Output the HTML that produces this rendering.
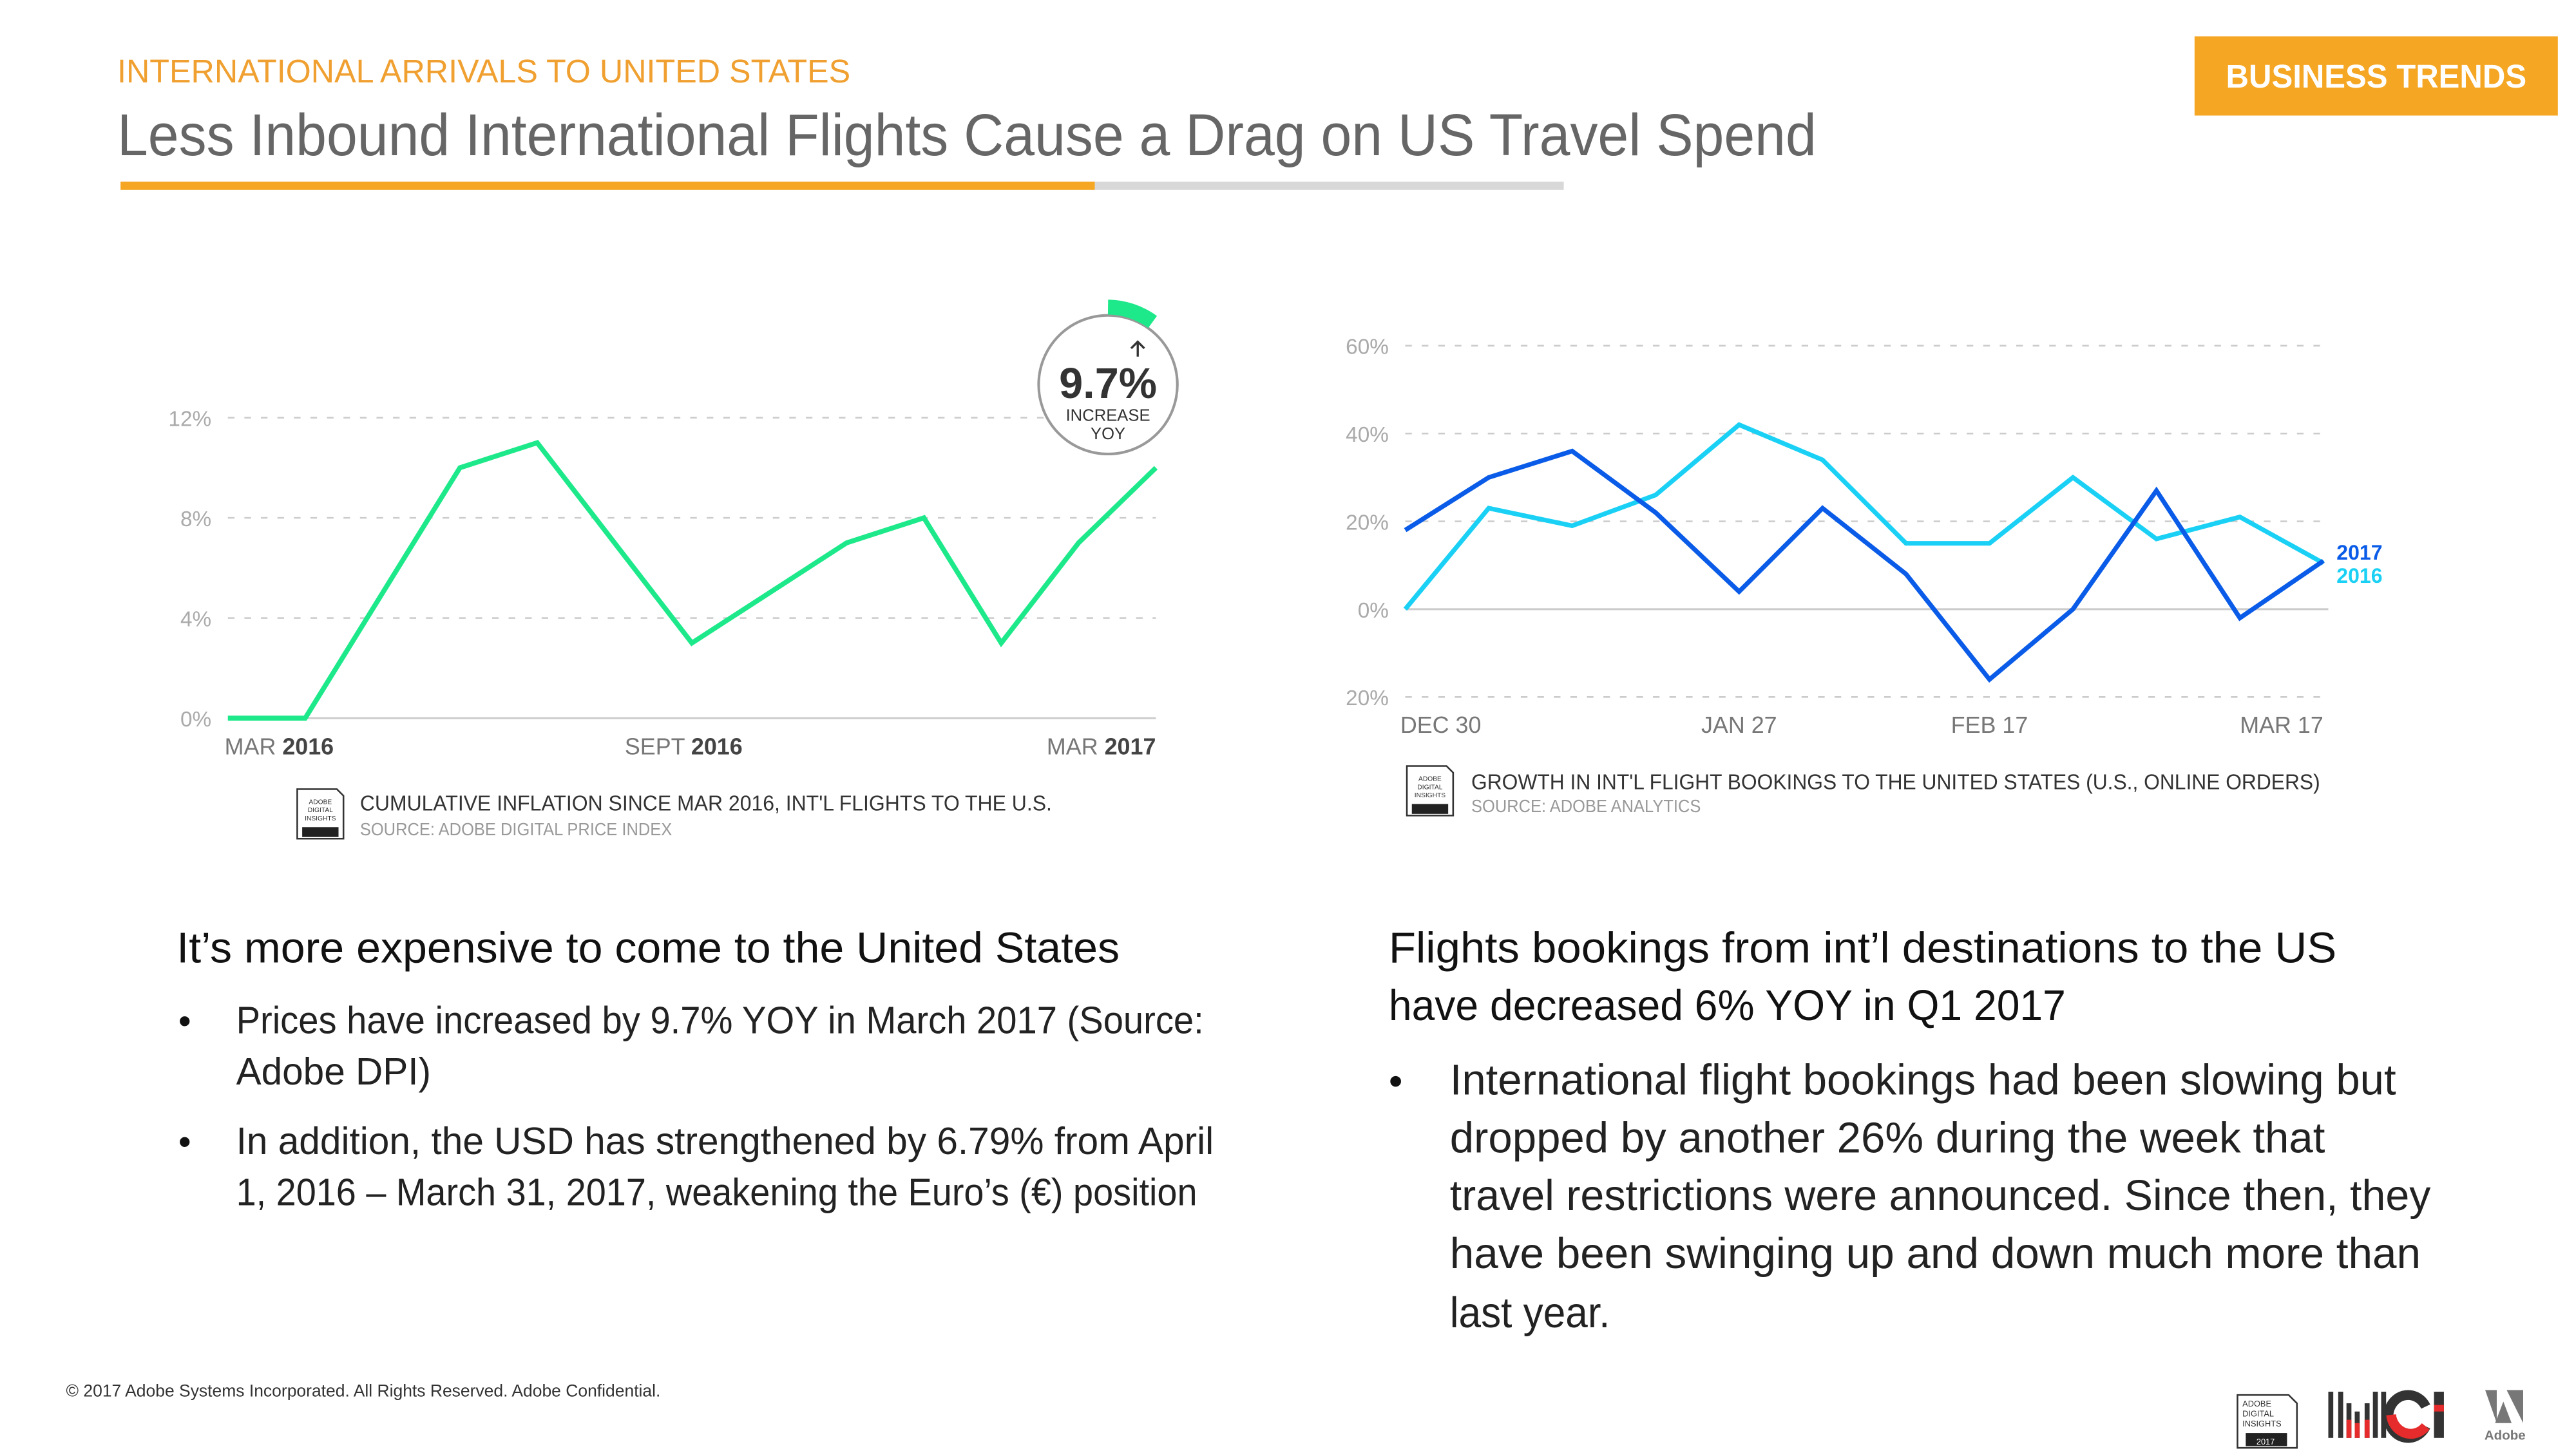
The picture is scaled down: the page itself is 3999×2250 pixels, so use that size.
<!DOCTYPE html>
<html><head><meta charset="utf-8"><style>
html,body{margin:0;padding:0;background:#fff;}
svg{display:block;font-family:"Liberation Sans",sans-serif;}
</style></head><body>
<svg id="page" width="3999" height="2250" viewBox="0 0 1560 877.7" xmlns="http://www.w3.org/2000/svg">
<text x="71" y="50" font-size="20" fill="#F0A030" textLength="444" lengthAdjust="spacingAndGlyphs">INTERNATIONAL ARRIVALS TO UNITED STATES</text>
<text x="71" y="94" font-size="36" fill="#666" textLength="1029" lengthAdjust="spacingAndGlyphs">Less Inbound International Flights Cause a Drag on US Travel Spend</text>
<rect x="73" y="110" width="590" height="5" fill="#F5A623"/>
<rect x="663" y="110" width="284" height="5" fill="#D8D8D8"/>
<rect x="1329" y="22" width="220" height="48" fill="#F5A623"/>
<text x="1348" y="53" font-size="20" font-weight="bold" fill="#fff" textLength="182" lengthAdjust="spacingAndGlyphs">BUSINESS TRENDS</text>

<g id="left-chart"></g>
<g id="right-chart"></g>

<g>
<circle cx="671" cy="233" r="42" fill="#fff" stroke="#999" stroke-width="1.6"/>
<path d="M671,186 A47,47 0 0 1 698,195" fill="none" stroke="#1DE98B" stroke-width="9"/>
<text x="671" y="241" font-size="26" font-weight="bold" fill="#333" text-anchor="middle">9.7%</text>
<text x="671" y="255" font-size="10" fill="#333" text-anchor="middle">INCREASE</text>
<text x="671" y="266" font-size="10" fill="#333" text-anchor="middle">YOY</text>
<path d="M689,216 L689,207 M685,211 L689,207 L693,211" stroke="#333" stroke-width="1.3" fill="none"/>
</g>

<g>
<g><path d="M180,478 H204 L208,482 V508 H180 Z" fill="#fff" stroke="#333" stroke-width="1"/><rect x="183" y="501" width="22" height="6" fill="#222"/><text x="194" y="487" font-size="4" text-anchor="middle" fill="#333">ADOBE</text><text x="194" y="492" font-size="4" text-anchor="middle" fill="#333">DIGITAL</text><text x="194" y="497" font-size="4" text-anchor="middle" fill="#333">INSIGHTS</text></g>
<text x="218" y="491" font-size="13" fill="#333" textLength="419" lengthAdjust="spacingAndGlyphs">CUMULATIVE INFLATION SINCE MAR 2016, INT'L FLIGHTS TO THE U.S.</text>
<text x="218" y="506" font-size="11" fill="#999" textLength="189" lengthAdjust="spacingAndGlyphs">SOURCE: ADOBE DIGITAL PRICE INDEX</text>
</g>
<g>
<g><path d="M852,464 H876 L880,468 V494 H852 Z" fill="#fff" stroke="#333" stroke-width="1"/><rect x="855" y="487" width="22" height="6" fill="#222"/><text x="866" y="473" font-size="4" text-anchor="middle" fill="#333">ADOBE</text><text x="866" y="478" font-size="4" text-anchor="middle" fill="#333">DIGITAL</text><text x="866" y="483" font-size="4" text-anchor="middle" fill="#333">INSIGHTS</text></g>
<text x="891" y="478" font-size="13" fill="#333" textLength="514" lengthAdjust="spacingAndGlyphs">GROWTH IN INT'L FLIGHT BOOKINGS TO THE UNITED STATES (U.S., ONLINE ORDERS)</text>
<text x="891" y="492" font-size="11" fill="#999" textLength="139" lengthAdjust="spacingAndGlyphs">SOURCE: ADOBE ANALYTICS</text>
</g>

<g fill="#111">
<text x="107" y="583" font-size="26" textLength="571" lengthAdjust="spacingAndGlyphs">It’s more expensive to come to the United States</text>
<text x="108" y="626" font-size="22">•</text>
<text x="143" y="626" font-size="23" fill="#222" textLength="586" lengthAdjust="spacingAndGlyphs">Prices have increased by 9.7% YOY in March 2017 (Source:</text>
<text x="143" y="657" font-size="23" fill="#222" textLength="118" lengthAdjust="spacingAndGlyphs">Adobe DPI)</text>
<text x="108" y="699" font-size="22">•</text>
<text x="143" y="699" font-size="23" fill="#222" textLength="592" lengthAdjust="spacingAndGlyphs">In addition, the USD has strengthened by 6.79% from April</text>
<text x="143" y="730" font-size="23" fill="#222" textLength="582" lengthAdjust="spacingAndGlyphs">1, 2016 – March 31, 2017, weakening the Euro’s (€) position</text>
</g>
<g fill="#111">
<text x="841" y="583" font-size="26" textLength="574" lengthAdjust="spacingAndGlyphs">Flights bookings from int’l destinations to the US</text>
<text x="841" y="618" font-size="26" textLength="410" lengthAdjust="spacingAndGlyphs">have decreased 6% YOY in Q1 2017</text>
<text x="841" y="663" font-size="24">•</text>
<text x="878" y="663" font-size="26" fill="#222" textLength="573" lengthAdjust="spacingAndGlyphs">International flight bookings had been slowing but</text>
<text x="878" y="698" font-size="26" fill="#222" textLength="530" lengthAdjust="spacingAndGlyphs">dropped by another 26% during the week that</text>
<text x="878" y="733" font-size="26" fill="#222" textLength="594" lengthAdjust="spacingAndGlyphs">travel restrictions were announced.  Since then, they</text>
<text x="878" y="768" font-size="26" fill="#222" textLength="588" lengthAdjust="spacingAndGlyphs">have been swinging up and down much more than</text>
<text x="878" y="804" font-size="26" fill="#222" textLength="97" lengthAdjust="spacingAndGlyphs">last year.</text>
</g>
<text x="40" y="846" font-size="10.5" fill="#333" textLength="360" lengthAdjust="spacingAndGlyphs">© 2017 Adobe Systems Incorporated.  All Rights Reserved.  Adobe Confidential.</text>

<g>
<path d="M1355,845 H1386 L1391,850 V877 H1355 Z" fill="#fff" stroke="#333" stroke-width="1"/>
<rect x="1360" y="868" width="25" height="8" fill="#222"/>
<text x="1372" y="875" font-size="5" fill="#fff" text-anchor="middle">2017</text>
<text x="1358" y="852" font-size="5" fill="#333">ADOBE</text><text x="1358" y="858" font-size="5" fill="#333">DIGITAL</text><text x="1358" y="864" font-size="5" fill="#333">INSIGHTS</text>
<g fill="#333"><rect x="1410" y="843" width="3" height="28"/><rect x="1416" y="843" width="3" height="28"/><rect x="1421" y="850" width="3" height="21"/><rect x="1426" y="855" width="3" height="16"/><rect x="1432" y="850" width="3" height="21"/><rect x="1437" y="843" width="3" height="28"/><rect x="1442" y="843" width="3" height="28"/><rect x="1474" y="843" width="6" height="28"/></g>
<g fill="#E52B2B"><rect x="1421" y="860" width="3" height="11"/><rect x="1426" y="862" width="3" height="9"/><rect x="1432" y="860" width="3" height="11"/><rect x="1474" y="851" width="6" height="4"/></g>
<path d="M1469,852 A12,13 0 1 0 1469,864" fill="none" stroke="#333" stroke-width="6"/>
<path d="M1448,857 A12,13 0 0 0 1469,864" fill="none" stroke="#E52B2B" stroke-width="6"/>
<path d="M1505,842 H1512 L1512,862 Z M1518,842 H1528 V862 Z M1516,849 L1521,862 H1511 Z" fill="#777"/>
<text x="1517" y="872" font-size="8" font-weight="bold" fill="#777" text-anchor="middle">Adobe</text>
</g>
</svg>
<script>
// Left chart data
const leftCats = ["MAR 2016","APR","MAY","JUN","JUL","AUG","SEPT 2016","OCT","NOV","DEC","JAN","FEB","MAR 2017"];
const leftValues = [0,0,5,10,11,7,3,5,7,8,3,7,10];
const leftTicks = [0,4,8,12];
// Right chart data
const rightCats = ["DEC 30","JAN 6","JAN 13","JAN 20","JAN 27","FEB 3","FEB 10","FEB 17","FEB 24","MAR 3","MAR 10","MAR 17"];
const series2017 = [18,30,36,22,4,23,8,-16,0,27,-2,11];
const series2016 = [0,23,19,26,42,34,15,15,30,16,21,10.5];
const rightTicks = [-20,0,20,40,60];
const rightTickLabels = ["20%","0%","20%","40%","60%"];
const rightXLabelIdx = [0,4,7,11];

const NS = "http://www.w3.org/2000/svg";
function mk(tag, attrs, parent){const e=document.createElementNS(NS,tag);for(const k in attrs)e.setAttribute(k,attrs[k]);parent.appendChild(e);return e;}

// LEFT
(function(){
  const g=document.getElementById('left-chart');
  const x0=138,x1=700,yb=435,yt=253;
  const xs=i=>x0+(x1-x0)*i/(leftCats.length-1);
  const ys=v=>yb-(yb-yt)*v/12;
  leftTicks.forEach(t=>{
    const l=mk('line',{x1:x0,x2:x1,y1:ys(t),y2:ys(t),stroke:'#ccc','stroke-width':t===0?1.2:1,'stroke-dasharray':t===0?'none':'4,6'},g);
    
    
    const tx=mk('text',{x:128,y:ys(t)+5,'font-size':13,fill:'#aaa','text-anchor':'end'},g);
    tx.textContent=t+'%';
    
    
  });
  [[0,'start',136],[6,'middle',414],[12,'end',700]].forEach(([i,a,xx])=>{
    const p=leftCats[i].split(' ');
    const tx=mk('text',{x:xx,y:457,'font-size':14,fill:'#777','text-anchor':a},g);
    
    
    const s1=mk('tspan',{},tx);s1.textContent=p[0]+' ';
    const s2=mk('tspan',{'font-weight':'bold',fill:'#444'},tx);s2.textContent=p[1];
  });
  const pl=mk('polyline',{points:leftValues.map((v,i)=>xs(i)+','+ys(v)).join(' '),fill:'none',stroke:'#1DE98B','stroke-width':3,'stroke-linejoin':'miter'},g);
  
  
})();

// RIGHT
(function(){
  const g=document.getElementById('right-chart');
  const x0=851,x1=1407,y0=369,per=53.2/20;
  const xs=i=>x0+(x1-x0)*i/(rightCats.length-1);
  const ys=v=>y0-v*per;
  rightTicks.forEach((t,k)=>{
    const l=mk('line',{x1:x0,x2:x1+3,y1:ys(t),y2:ys(t),stroke:'#ccc','stroke-width':t===0?1.2:1,'stroke-dasharray':t===0?'none':'4,6'},g);
    
    
    const tx=mk('text',{x:841,y:ys(t)+5,'font-size':13,fill:'#aaa','text-anchor':'end'},g);
    tx.textContent=rightTickLabels[k];
    
    
  });
  rightXLabelIdx.forEach((i,k)=>{
    const a=k===0?'start':(k===rightXLabelIdx.length-1?'end':'middle');
    const tx=mk('text',{x:k===0?xs(i)-3:xs(i),y:444,'font-size':14,fill:'#777','text-anchor':a},g);
    tx.textContent=rightCats[i];
    
    
  });
  const p16=mk('polyline',{points:series2016.map((v,i)=>xs(i)+','+ys(v)).join(' '),fill:'none',stroke:'#1AD1F5','stroke-width':2.8},g);
  
  
  const p17=mk('polyline',{points:series2017.map((v,i)=>xs(i)+','+ys(v)).join(' '),fill:'none',stroke:'#0A5CE8','stroke-width':2.8},g);
  
  
  const l1=mk('text',{x:1415,y:339,'font-size':12.5,'font-weight':'bold',fill:'#0A5CE8'},g);
  l1.textContent='2017';
  
  
  const l2=mk('text',{x:1415,y:353,'font-size':12.5,'font-weight':'bold',fill:'#1AD1F5'},g);
  l2.textContent='2016';
  
  
})();
</script>
</body></html>
